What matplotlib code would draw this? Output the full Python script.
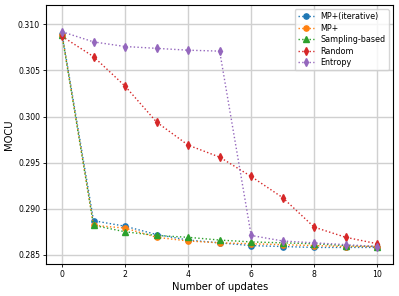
import matplotlib
matplotlib.use("Agg")
import matplotlib.pyplot as plt

x = list(range(11))
mp_iter = [0.3090, 0.2887, 0.2881, 0.2872, 0.2866, 0.2863, 0.2860, 0.2859, 0.2858, 0.2858, 0.2858]
mp_plus = [0.3089, 0.2882, 0.2879, 0.2869, 0.2865, 0.2863, 0.2862, 0.2861, 0.2860, 0.2859, 0.2859]
sampling = [0.3088, 0.2882, 0.2875, 0.2871, 0.2869, 0.2866, 0.2864, 0.2863, 0.2862, 0.2860, 0.2859]
random_ = [0.3087, 0.3065, 0.3033, 0.2994, 0.2969, 0.2956, 0.2935, 0.2912, 0.2880, 0.2869, 0.2862]
entropy = [0.3092, 0.3081, 0.3076, 0.3074, 0.3072, 0.3071, 0.2871, 0.2865, 0.2863, 0.2861, 0.2859]

fig, ax = plt.subplots(figsize=(3.99, 2.96), dpi=100)
fig.subplots_adjust(left=0.116, right=0.985, top=0.983, bottom=0.108)
ms = 3.8
lw = 1.0
ax.plot(x, mp_iter, ':', marker='o', color='tab:blue', ms=ms, lw=lw, label='MP+(iterative)')
ax.plot(x, mp_plus, ':', marker='o', color='tab:orange', ms=ms, lw=lw, label='MP+')
ax.plot(x, sampling, ':', marker='^', color='tab:green', ms=ms, lw=lw, label='Sampling-based')
ax.plot(x, random_, ':', marker='d', color='tab:red', ms=ms, lw=lw, label='Random')
ax.plot(x, entropy, ':', marker='d', color='tab:purple', ms=ms, lw=lw, label='Entropy')
ax.set_xlim(-0.5, 10.5)
ax.set_ylim(0.2840, 0.3121)
ax.set_xticks([0, 2, 4, 6, 8, 10])
ax.set_yticks([0.285, 0.290, 0.295, 0.300, 0.305, 0.310])
ax.tick_params(labelsize=5.6, length=2.5, width=0.6, pad=2)
for s in ax.spines.values():
    s.set_linewidth(0.8)
ax.grid(True, color='#d0d0d0', linewidth=1)
ax.set_xlabel('Number of updates', fontsize=7.2, labelpad=2)
ax.set_ylabel('MOCU', fontsize=7.2, labelpad=3)
ax.legend(loc='upper right', fontsize=5.8, handlelength=2, borderpad=0.4, labelspacing=0.3)
fig.savefig('out.png', dpi=100)
